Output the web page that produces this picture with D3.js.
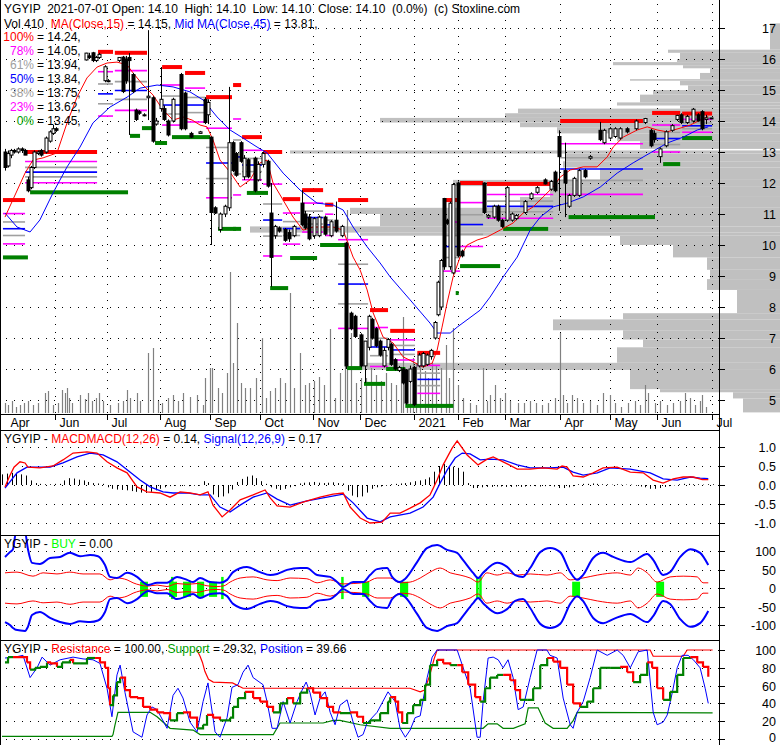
<!DOCTYPE html>
<html><head><meta charset="utf-8">
<script src="https://cdn.jsdelivr.net/npm/d3@7"></script>
<style>body{margin:0;background:#fff}svg{display:block}text{font-family:"Liberation Sans",Arial,sans-serif;font-size:12px}</style>
</head><body><svg id="c" width="780" height="745"></svg>
<script>
// ---------- DATA ----------
const monthLabels = ["Apr","Jun","Jul","Aug","Sep","Oct","Nov","Dec","2021","Feb","Mar","Apr","May","Jun","Jul"];
const monthIdx = [1.5,22,43.75,65.8,86.7,107.5,129.6,149.2,171.7,190,209.6,232.5,253.3,273,295.8];
const priceTicks = [5,6,7,8,9,10,11,12,13,14,15,16,17];
const macdTicks = [1.0,0.5,0.0,-0.5,-1.0];
const buyTicks = [100,50,0,-50,-100];
const resTicks = [100,80,60,40,20,0];

// candles: day index, open, high, low, close
const candIdx = [1.25,2.5,3.75,5,6.7,8.3,9.6,10.8,12.1,13.3,15,16.25,18.3,20,21.25,22.5,
 35,36.25,37.9,39.2,40.4,42.9,44.2,48.75,50.4,51.7,52.9,54.6,55.8,57.1,59.2,60.8,62.9,64.2,
 66.25,67.5,69.2,71.25,74.6,76.25,78.75,82.5,84.6,85.8,
 87.1,88.75,90.8,92.9,94.6,96.25,97.5,99.6,100.8,102.5,105.4,106.7,108.75,110.8,
 112.1,113.75,115.4,117.9,119.6,121.7,125,126.25,127.9,130,132.1,134.6,137.1,139.2,141.7,
 143.3,145.4,147.1,149.6,151.25,152.9,154.2,155.8,157.5,159.2,160.8,162.1,163.75,165.4,
 167.1,168.3,170,171.7,173.75,175.4,177.1,178.75,
 180.4,181.7,182.9,184.2,185.4,186.7,187.9,190,191.7,
 200.8,202.5,205,206.7,208.3,210.4,212.5,214.2,217.9,
 220.4,223,226.25,228.75,230.4,232.1,
 234.6,236.25,238.3,240.4,242.9,245,249.2,250.8,
 253.3,255.4,257.5,260.4,264.2,267.9,
 270.4,271.7,274.2,276.7,279.2,281.25,282.9,285.4,287.9,290,291.7,293.3,295.4];
const cOpen = [13.0,12.55,12.9,13.05,13.0,13.1,13.05,12.1,11.85,12.5,12.95,13.05,13.0,13.35,13.6,13.75,
 15.97,16.1,16.2,15.95,16.05,15.3,15.3,15.95,16.06,16.0,16.05,15.5,14.35,14.3,14.2,14.75,14.75,13.9,
 14.4,14.4,14.0,14.0,15.5,14.9,13.6,13.6,14.7,14.2,
 13.48,11.2,10.5,11.0,11.2,13.3,12.95,13.3,12.2,12.75,12.8,12.1,12.6,12.7,
 11.03,10.3,10.55,10.5,10.4,10.3,11.35,11.0,10.9,10.3,10.3,10.9,10.3,10.8,10.3,
 10.06,7.8,7.7,7.1,6.1,6.7,7.6,7.3,6.9,6.1,6.7,6.8,6.3,5.95,
 6.0,5.97,5.6,6.05,6.1,6.1,6.15,6.4,
 7.0,7.75,8.0,11.5,10.8,9.3,9.1,12.0,9.8,
 12.0,10.9,10.9,11.25,10.8,10.8,10.8,10.85,11.05,
 11.5,11.7,12.1,11.8,12.35,13.5,
 12.4,11.25,11.6,11.6,12.4,12.8,13.7,13.3,
 13.45,13.5,13.45,13.75,13.75,13.95,
 13.7,13.6,12.85,13.2,13.7,14.05,14.2,13.95,14.0,14.2,14.3,14.05,14.1];
const cHigh = [13.1,13.05,13.1,13.1,13.15,13.15,13.1,12.2,12.55,13.05,13.05,13.1,13.5,13.7,13.87,13.8,
 16.2,16.2,16.23,16.1,16.2,15.8,15.35,16.06,16.1,16.1,16.19,15.55,14.4,14.35,14.25,16.93,14.8,14.1,
 15.74,14.5,14.05,14.75,15.55,14.95,13.65,13.68,14.77,14.7,
 13.5,11.25,11.05,11.3,15.1,13.35,13.0,13.35,12.9,12.8,12.85,12.7,13.0,12.75,
 12.0,10.65,10.6,10.55,10.5,10.65,11.77,11.1,11.0,10.9,10.95,10.95,10.8,11.4,10.65,
 10.1,7.85,7.75,7.15,6.9,7.75,7.65,7.35,6.95,6.7,7.0,6.85,6.35,6.1,
 6.05,6.0,6.1,6.1,6.52,6.55,6.5,6.65,
 7.55,8.85,9.55,11.52,10.85,11.4,12.0,12.05,9.85,
 12.02,11.0,11.3,11.3,10.85,11.9,11.05,11.0,11.45,
 11.7,11.9,12.15,12.1,12.4,13.7,
 13.3,11.65,12.2,12.45,12.45,12.9,13.97,13.75,
 13.8,13.8,13.8,13.8,14.05,14.1,
 13.75,13.7,13.15,13.7,13.9,14.2,14.25,14.2,14.42,14.25,14.35,14.2,14.1];
const cLow = [12.4,12.5,12.8,12.95,12.95,13.0,12.9,11.7,11.8,12.45,12.9,12.85,12.95,13.3,13.55,13.65,
 15.95,16.0,15.9,15.9,16.0,15.25,15.25,15.9,14.9,15.2,13.55,14.9,14.0,14.2,14.15,14.03,13.3,13.85,
 14.3,14.0,13.5,13.95,13.7,13.7,13.45,13.6,13.9,13.9,
 10.0,11.0,10.4,10.9,11.1,12.35,12.2,12.65,12.1,12.15,11.7,12.05,12.5,11.85,
 8.65,10.2,10.4,10.1,10.1,10.25,10.6,10.5,10.15,10.2,10.25,10.3,10.25,10.4,10.25,
 6.0,7.25,7.0,6.05,5.55,6.6,6.95,6.7,6.4,6.05,6.6,6.1,5.95,5.9,
 5.5,4.85,5.55,4.8,6.05,6.05,6.1,6.3,
 6.95,7.7,7.9,9.2,10.65,9.2,9.05,9.6,9.6,
 11.0,10.85,10.85,10.75,10.55,10.75,10.75,10.8,11.0,
 11.45,11.65,11.95,11.75,11.7,11.1,
 10.9,11.2,11.55,11.55,12.15,12.75,13.35,13.25,
 13.4,13.45,13.4,13.6,13.7,13.9,
 13.15,13.3,12.65,13.15,13.65,14.0,13.9,13.9,13.95,13.98,13.7,13.9,14.1];
const cClose = [12.5,12.95,13.05,13.0,13.1,13.05,12.9,11.75,12.5,13.0,13.0,12.9,13.45,13.65,13.75,13.7,
 16.19,16.05,15.95,16.05,16.15,15.75,15.3,16.05,14.95,15.3,15.95,14.95,14.05,14.25,14.2,14.8,13.35,14.0,
 14.7,14.05,13.55,14.7,13.75,13.75,13.48,13.65,13.95,14.6,
 11.05,11.03,11.0,11.25,13.3,12.4,12.25,12.7,12.8,12.2,11.75,12.6,12.95,11.9,
 9.6,10.6,10.45,10.15,10.2,10.6,10.65,10.55,10.2,10.85,10.9,10.35,10.75,10.45,10.6,
 6.1,7.3,7.05,6.1,6.9,7.7,7.0,6.75,6.45,6.6,6.95,6.15,6.0,6.05,
 5.55,4.9,6.0,4.85,6.45,6.5,6.45,6.6,
 7.5,8.8,9.5,9.3,10.7,11.35,11.95,9.65,9.65,
 11.05,10.95,11.25,10.8,10.6,11.85,11.0,10.95,11.4,
 11.65,11.85,11.97,12.05,11.75,12.85,
 12.0,11.6,12.15,12.4,12.2,12.85,13.4,13.7,
 13.75,13.75,13.75,13.65,14.0,14.08,
 13.2,13.4,13.1,13.65,13.85,14.18,13.95,14.15,14.38,14.0,13.75,14.1,14.1];

// volume bars (day index, hundreds of shares)
const volIdx = [1.25,2.5,4.2,5.8,7.5,9.2,10.8,12.9,15,17.9,19.2,21.25,23.3,25,26.25,27.1,27.9,29.2,32.5,34.6,35.8,37.5,39.2,40.4,42.1,45,48.3,50.4,52.1,53.3,56.25,57.5,60.8,62.9,65,66.7,69.2,71.25,73.3,75.4,78.3,81.25,83.75,84.6,86.7,87.5,90,91.7,93.75,95,96.25,97.9,99.6,101.25,103.3,105.8,108.3,110,111.7,113.75,115.8,117.9,120,121.7,124.2,126.25,127.9,130,132.1,134.2,136.7,138.75,140.8,142.9,143.75,145.4,147.5,149.6,151.7,153.75,155.8,157.9,160,162.1,164.2,166.25,167.1,168.75,170,171.25,172.5,174.2,176.25,177.5,179.2,180.8,182.9,185,186.25,187.9,190,192.1,195,197.5,200.4,202.1,203.3,205.4,207.5,209.6,211.7,215,217.5,220,222.5,225,227.5,230.4,232.5,233.75,235.4,237.5,239.6,242.1,245,247.9,250.4,253.3,255.4,257.9,260.8,263.75,265.8,267.9,269.2,272.1,274.2,277.1,279.6,282.5,284.6,286.7,288.75,290.8,291.7,293.3];
const volume = [10,8,12,6,8,10,12,8,10,20,22,8,10,23,20,25,15,10,18,14,20,12,15,20,12,8,10,12,23,15,20,12,60,65,12,10,15,18,12,20,16,18,8,35,45,45,25,20,40,141,50,90,30,25,25,35,75,15,22,25,35,30,120,25,60,28,30,32,36,28,84,15,40,100,203,80,30,35,35,45,38,32,40,30,28,45,96,40,48,55,50,60,42,35,50,48,45,68,35,85,28,15,10,8,45,12,18,28,15,20,12,10,10,12,10,8,10,15,80,18,10,18,15,10,12,8,20,18,10,6,10,12,8,28,20,10,12,8,10,12,20,15,8,12,18,6];

// volume-by-price profile (price low, price high, relative volume)
const profLo = [16.3,16.2,16.0,15.9,15.8,15.7,15.55,15.35,15.3,15.15,15.0,14.85,14.6,14.5,14.4,14.25,14.1,13.95,13.8,13.6,13.35,13.1,12.95,12.7,12.5,12.1,11.9,11.55,11.2,11.0,10.6,10.4,10.3,10.0,9.6,9.2,8.9,8.55,7.8,7.6,7.25,6.95,6.7,6.2,5.97,5.35,5.25,5.05,4.6];
const profHi = [17.15,16.3,16.2,16.0,15.9,15.8,15.7,15.55,15.35,15.3,15.15,15.0,14.85,14.6,14.5,14.4,14.25,14.1,13.95,13.8,13.6,13.35,13.05,12.95,12.7,12.5,12.1,11.9,11.55,11.2,11.0,10.6,10.4,10.3,10.0,9.6,9.2,8.9,8.55,7.8,7.6,7.25,6.95,6.7,6.2,5.97,5.35,5.25,5.05];
const profVol = [10,112,100,103,167,97,70,80,150,100,92,127,140,163,100,262,275,400,260,223,163,140,490,215,217,180,327,230,260,430,400,530,420,160,107,73,70,73,43,157,227,157,137,163,420,150,120,47,37];

// moving averages [day index, price]
const ma15 = [[1.25,10.9],[9.6,12.32],[12.9,12.74],[17.1,12.81],[22.9,12.97],[27.1,13.94],[31.25,14.77],[35.4,15.39],[39.6,15.74],[43.75,15.87],[47.9,15.9],[52.1,15.81],[54.6,15.55],[58.75,15.16],[62.9,14.84],[67.1,14.35],[71.25,14.03],[75.4,14.13],[79.2,14.03],[82.5,13.87],[85.4,13.81],[87.9,13.39],[90.8,12.74],[95,12.35],[99.2,11.87],[103.3,12.1],[107.5,12.65],[110.4,12.74],[112.9,12.0],[117.1,11.45],[121.25,10.9],[125.4,10.48],[129.6,10.58],[133.75,10.58],[137.9,10.58],[142.1,10.48],[146.25,9.61],[149.2,9.19],[152.1,8.55],[154.6,7.81],[158.75,7.03],[162.9,6.84],[167.1,6.39],[171.25,6.23],[175.4,6.06],[179.2,6.19],[181.25,6.61],[183.3,7.35],[185.4,8.13],[187.9,8.97],[190.8,9.61],[193.75,10.0],[197.9,10.16],[202.1,10.26],[207.5,10.48],[212.9,10.71],[217.1,11.03],[221.25,11.23],[225.4,11.55],[229.6,11.87],[232.5,12.19],[236.7,12.42],[242.1,12.52],[247.9,12.52],[252.1,12.84],[254.6,13.16],[258.75,13.48],[264.6,13.71],[268.75,13.81],[272.9,13.71],[277.1,13.65],[282.5,13.77],[286.7,13.87],[290.8,14.03],[294.2,14.15]];
const ma45 = [[1.25,11.03],[6.25,10.58],[11.7,10.42],[15.8,10.81],[21.25,11.68],[27.1,12.52],[32.5,13.16],[37.9,13.94],[45,14.45],[52.1,14.77],[57.5,15.06],[64.6,15.16],[71.25,15.1],[78.3,14.94],[83.75,14.68],[89.6,14.13],[95,13.71],[100.4,13.45],[106.25,13.16],[110.4,12.97],[117.1,12.32],[124.2,11.77],[131.25,11.35],[137.9,11.29],[142.1,11.13],[146.25,10.58],[152.1,9.94],[157.5,9.42],[161.7,8.97],[170,8.23],[178.3,7.48],[181.25,7.16],[186.7,7.16],[189.6,7.35],[199.2,7.9],[203.3,8.32],[208.75,8.97],[214.6,9.61],[220,10.48],[224.2,10.9],[229.6,11.23],[235.4,11.35],[242.1,11.55],[249.2,11.87],[256.25,12.32],[262.9,12.65],[270,12.97],[277.1,13.29],[283.75,13.48],[289.6,13.71],[294.2,13.81]];

// Fibonacci retracement sets (day index range, high, low, support bar range)
const fibStart = [0.4,9.6,40,47,66.7,76.25,85,96.25,100,108.75,117,125,134.6,140,153.3,161.7,173,183.75,190.8,202,232.5,270.8,283.3];
const fibEnd   = [9.6,39.6,46.25,60.4,75,84.6,95.8,99.6,108.3,116.7,124.2,133.75,138,152.5,160.8,172,182.5,190.8,200.4,229.6,267,282.5,295.8];
const fibHi    = [11.45,13.0,16.23,16.2,15.74,15.55,14.77,15.16,13.48,13.0,11.48,11.77,11.3,11.45,7.9,7.23,6.52,11.45,12.0,11.97,14.0,14.26,14.24];
const fibLo    = [9.6,11.7,13.52,13.77,13.29,13.48,10.52,10.52,11.68,8.61,9.58,10.0,10.0,6.03,5.52,6.0,4.81,8.45,9.32,10.52,10.9,12.61,13.45];
const supStart = [0.4,11.7,53.3,58.3,63.75,70.8,90,96.25,102,111.7,120,132.5,134.6,143.75,150.8,160,168,189,190.8,208.75,236,275.4,283.3];
const supEnd   = [10.8,52.5,57.5,63.75,68.75,86.7,99.6,97,110.8,119.2,131.25,142.9,136,150,159.6,168,188,190,207.5,227.5,272,282.5,295.8];
const fibPct = [1.0,0.764,0.618,0.5,0.382,0.236,0.0];
const fibPctLabel = ["100%","78%","61%","50%","38%","23%","0%"];
const fibPctValue = ["14.24","14.05","13.94","13.84","13.75","13.62","13.45"];

// MACD panel
const macdLine = [[1.25,-0.05],[3,0.21],[5,0.47],[7.5,0.61],[9.6,0.58],[10.8,0.47],[15.8,0.45],[21.25,0.5],[25.4,0.66],[29.6,0.84],[35.4,0.87],[39.6,0.84],[43.75,0.61],[47.9,0.45],[52.1,0.32],[56.25,-0.05],[60.4,-0.18],[65.8,-0.21],[70,-0.32],[74.2,-0.18],[78.3,-0.21],[82.5,-0.26],[85.8,-0.18],[87.9,-0.53],[91.7,-0.84],[95,-0.66],[99.2,-0.39],[104.6,-0.26],[109.6,-0.13],[111.7,-0.34],[114.6,-0.55],[120,-0.58],[125.4,-0.45],[132.5,-0.32],[137.9,-0.24],[142.1,-0.21],[145,-0.58],[149.2,-0.87],[153.3,-1.0],[158.3,-0.98],[161.7,-0.74],[165.8,-0.74],[170,-0.61],[174.2,-0.47],[178.3,-0.26],[181.25,0.13],[183.75,0.53],[187.5,0.97],[189.6,1.16],[193.75,0.79],[198.3,0.53],[202.1,0.68],[204.6,0.74],[208.75,0.61],[214.6,0.42],[220,0.42],[225.4,0.45],[231.25,0.42],[233.3,0.5],[235.4,0.47],[237.9,0.24],[242.1,0.21],[246.25,0.32],[250.4,0.45],[256.25,0.47],[261.7,0.34],[267.1,0.32],[271.25,0.13],[275.4,0.05],[279.6,0.16],[283.75,0.21],[287.9,0.21],[291.7,0.14],[294.2,0.14]];
const signalLine = [[1.25,-0.08],[6.25,0.32],[10.4,0.47],[20,0.47],[25.4,0.58],[31.25,0.74],[36.7,0.84],[42.1,0.79],[47.9,0.61],[53.3,0.34],[57.5,0.13],[61.7,-0.05],[67.1,-0.18],[71.25,-0.21],[77.1,-0.21],[82.5,-0.26],[86.7,-0.26],[90.8,-0.58],[95,-0.71],[99.2,-0.53],[104.6,-0.32],[110.4,-0.21],[114.6,-0.37],[120,-0.53],[127.1,-0.42],[133.75,-0.34],[142.1,-0.24],[146.25,-0.47],[152.1,-0.87],[157.5,-0.97],[161.7,-0.84],[170,-0.74],[175.4,-0.58],[179.6,-0.32],[182.5,0.05],[185.4,0.39],[188.75,0.71],[191.7,0.84],[195,0.82],[199.2,0.66],[203.3,0.68],[208.75,0.66],[214.6,0.53],[220,0.45],[228.3,0.45],[233.75,0.47],[237.9,0.34],[242.1,0.26],[248,0.32],[253.3,0.45],[261.7,0.42],[270,0.32],[275.4,0.16],[281.25,0.13],[286.7,0.21],[290.8,0.18],[294.2,0.17]];
const histIdx = [0,2,4,6,8,10,12,14,16,18,20,22,24,26,28,30,32,34,36,38,40,42,44,46,48,50,52,54,56,58,60,62,64,66,68,70,72,74,76,78,80,82,84,86,88,90,92,94,96,98,100,102,104,106,108,110,112,114,116,118,120,122,124,126,128,130,132,134,136,138,140,142,144,146,148,150,152,154,156,158,160,162,164,166,168,170,172,174,176,178,180,182,184,186,188,190,192,194,196,198,200,202,204,206,208,210,212,214,216,218,220,222,224,226,228,230,232,234,236,238,240,242,244,246,248,250,252,254,256,258,260,262,264,266,268,270,272,274,276,278,280,282,284,286,288,290,292,294,296];
const histVal = [0.28,0.3,0.32,0.3,0.28,0.25,0.12,0.05,0.03,0.02,0.02,0.03,0.03,0.12,0.18,0.17,0.14,0.12,0.08,0.05,0.04,0.03,-0.06,-0.1,-0.12,-0.13,-0.14,-0.16,-0.18,-0.2,-0.21,-0.18,-0.14,-0.1,-0.06,-0.03,-0.02,-0.03,-0.02,-0.03,-0.02,-0.02,0.1,0.05,-0.25,-0.32,-0.3,-0.22,-0.12,0.08,0.16,0.22,0.25,0.18,0.1,0.03,-0.06,-0.1,-0.13,-0.1,-0.06,-0.03,0.04,0.06,0.07,0.08,0.06,0.05,0.06,0.07,0.05,0.04,-0.15,-0.28,-0.32,-0.3,-0.2,-0.1,-0.06,-0.04,-0.02,0.02,0.03,0.04,0.05,0.07,0.1,0.12,0.15,0.2,0.35,0.5,0.55,0.5,0.48,0.45,0.35,0.05,-0.08,-0.08,-0.06,-0.05,-0.05,-0.04,-0.04,-0.05,-0.05,-0.04,-0.05,-0.04,-0.03,-0.03,-0.04,-0.03,-0.02,-0.04,-0.08,-0.08,-0.06,-0.03,0.02,0.03,0.03,0.04,0.03,0.02,0.02,0.01,0.02,0.01,0.01,0.01,-0.02,-0.04,-0.06,-0.1,-0.1,-0.08,-0.05,-0.03,-0.01,0.02,0.03,0.03,0.02,0.02,0.01,0.02,0.02];

// BUY panel: envelope (blue), inner band (red), buy signals
const buyUpper = [[1.25,84],[3.3,97],[4.6,105],[5.8,150],[9.6,150],[10.8,105],[12.5,68],[15.8,65],[20,81],[24.2,84],[28.3,95],[32.5,86],[36.7,89],[40,86],[42.9,62],[45,30],[47.9,27],[52.1,41],[56.25,30],[58.75,16],[60.8,8],[64.6,14],[68.75,14],[72.9,30],[77.1,22],[79.6,16],[82.5,27],[86.7,16],[90.8,14],[93.75,22],[96.25,43],[102,57],[107.5,43],[111.7,35],[114.6,38],[118.75,49],[124.2,54],[127,54],[131.25,35],[136.7,30],[139.6,16],[142,3],[146.25,16],[150.4,16],[153.3,35],[156.25,51],[160.4,54],[162.5,30],[165.8,16],[168,25],[172.9,70],[177,108],[181.25,116],[185.4,103],[189.6,95],[192,76],[196.25,41],[198.3,27],[200.4,41],[206.25,68],[210.4,57],[213.75,35],[217,30],[220,54],[224.2,97],[228.3,108],[232.5,97],[236.7,43],[239.6,22],[242,35],[246.25,81],[250.4,95],[254.6,84],[261.7,70],[268.75,92],[271.25,76],[275.4,35],[278.3,43],[282.5,84],[286.7,105],[290.8,95],[294.2,62]];
const buyLower = [[1.25,-92],[3.3,-100],[4.6,-108],[5.8,-113],[9.6,-116],[10.8,-105],[12.5,-73],[15.8,-65],[20,-81],[24.2,-92],[28.3,-97],[32.5,-90],[36.7,-92],[40,-88],[42.9,-65],[45,-30],[47.9,-27],[52.1,-41],[56.25,-30],[58.75,-16],[60.8,-8],[64.6,-14],[68.75,-14],[72.9,-30],[77.1,-22],[79.6,-16],[82.5,-27],[86.7,-16],[90.8,-14],[93.75,-22],[96.25,-43],[102,-57],[107.5,-43],[111.7,-35],[114.6,-38],[118.75,-49],[124.2,-54],[127,-54],[131.25,-35],[136.7,-30],[139.6,-16],[142,-3],[146.25,-16],[150.4,-16],[153.3,-35],[156.25,-51],[160.4,-54],[162.5,-30],[165.8,-16],[168,-25],[172.9,-70],[177,-108],[181.25,-116],[185.4,-103],[189.6,-95],[192,-76],[196.25,-41],[198.3,-27],[200.4,-41],[206.25,-68],[210.4,-57],[213.75,-35],[217,-30],[220,-54],[224.2,-97],[228.3,-108],[232.5,-97],[236.7,-43],[239.6,-22],[242,-35],[246.25,-81],[250.4,-95],[254.6,-84],[261.7,-70],[268.75,-92],[271.25,-76],[275.4,-35],[278.3,-43],[282.5,-84],[286.7,-105],[290.8,-95],[294.2,-62]];
const bandUpper = [[1.25,41],[6.25,43],[12.9,32],[17.1,41],[22.9,38],[28.3,43],[33.75,38],[40.8,38],[45,22],[47.9,27],[52.1,22],[54.6,14],[57.5,8],[60.4,5],[64.6,8],[68.75,4],[72.9,12],[77.1,10],[81.25,12],[85.4,6],[89.6,4],[92.5,6],[95,16],[99.2,27],[104.6,30],[110.4,22],[114.6,20],[120,27],[127,25],[131.25,14],[136.7,22],[142,11],[146.25,12],[152,16],[156.25,27],[161.7,27],[165.8,14],[170,16],[174.2,27],[178.3,43],[182.5,54],[186.7,41],[190.8,35],[195,27],[198.3,16],[202,41],[206.25,35],[210.4,41],[214.6,35],[220,38],[227,35],[232.5,41],[236.7,22],[242,27],[248,35],[256.25,41],[261.7,35],[265,54],[268.75,41],[272.9,16],[278.3,30],[283.75,32],[289.6,30],[292,14],[294.2,14]];
const bandLower = [[1.25,-41],[6.25,-43],[12.9,-35],[17.1,-40],[22.9,-38],[28.3,-44],[33.75,-38],[40.8,-38],[45,-22],[47.9,-27],[52.1,-22],[54.6,-14],[57.5,-8],[60.4,-5],[64.6,-8],[68.75,-4],[72.9,-12],[77.1,-10],[81.25,-12],[85.4,-6],[89.6,-4],[92.5,-6],[95,-16],[99.2,-27],[104.6,-30],[110.4,-22],[114.6,-20],[120,-27],[127,-25],[131.25,-14],[136.7,-22],[142,-11],[146.25,-12],[152,-16],[156.25,-27],[161.7,-27],[165.8,-14],[170,-16],[174.2,-27],[178.3,-43],[182.5,-54],[186.7,-41],[190.8,-35],[195,-27],[198.3,-16],[202,-41],[206.25,-35],[210.4,-41],[214.6,-35],[220,-38],[227,-35],[232.5,-41],[236.7,-22],[242,-27],[248,-35],[256.25,-41],[261.7,-35],[265,-54],[268.75,-41],[272.9,-16],[278.3,-30],[283.75,-32],[289.6,-30],[292,-14],[294.2,-14]];
const buyStart = [57.5,69.6,70.8,75.4,81.25,86.25,91.7,141.7,150,165.8,197.9,199.2,237.5,272.5];
const buyEnd   = [60.8,72.9,70.8,78.75,84.2,89.6,91.7,141.7,153,169.2,197.9,199.2,240.8,275.8];

// Resistance / Support / Position panel
const resistance = [[81.2,100],[82.5,93],[83.5,86],[84.5,76],[86,67],[88,64],[96,63],[99,59],[100.4,57],[170,57],[174.2,53],[176,55],[178,70],[180,90],[181.25,100],[270,100],[271.25,93],[283.75,93],[285.4,100],[296,100]];
const support = [[0,3],[45.8,3],[46.25,5],[47,15],[48.3,30],[61.7,30],[64.6,25],[70,12],[79.6,10],[82.5,5],[113,5],[115.8,18],[133.75,18],[138,21],[140.8,21],[149.2,16],[161.7,12],[200.4,12],[202.5,17],[206.25,17],[208.75,12],[213,12],[217.9,17],[219.2,35],[223.3,35],[226.25,18],[229.6,12],[235.4,12],[238,21],[239.6,30],[296,29.32]];
const position = [[1.25,91],[5.4,92],[8.75,94],[11.7,69],[14.6,80],[16.7,92],[20,83],[24.2,89],[29.6,92],[33.75,90],[37.9,89],[40.8,85],[43.75,57],[45.8,25],[47.9,72],[49.2,83],[51.25,52],[54.6,8],[58.3,2],[60.4,27],[62.5,36],[64.6,33],[68.75,12],[71.25,49],[73.3,57],[75.4,46],[78.3,19],[81.25,8],[83.75,42],[85.8,63],[88.75,8],[90.8,2],[93.75,24],[95.8,58],[98.3,61],[100.4,75],[102.5,83],[104.6,69],[108.75,61],[110.4,42],[112.5,12],[114.6,12],[117.1,42],[120,18],[122.9,42],[125,55],[126.7,64],[128.3,52],[130.4,27],[132.5,46],[134.6,53],[136.7,30],[138.75,16],[140.8,38],[143.75,44],[146.25,19],[148.3,2],[150.4,5],[152.1,18],[156.25,30],[160.8,53],[163.75,42],[165.8,12],[168,2],[170,10],[172.1,24],[174.2,26],[177.1,69],[179.2,92],[181.25,100],[189.6,100],[195,57],[197.9,2],[199.2,2],[200.4,42],[202.5,91],[204.6,92],[206.7,89],[208.75,80],[210.8,89],[212.9,69],[215,33],[217.1,36],[220,69],[222.9,100],[227,100],[228.3,94],[231.25,91],[233.75,46],[236.7,16],[237.9,12],[239.6,30],[242.1,42],[245,69],[247.9,100],[252.1,94],[256.25,100],[258.75,94],[261.7,80],[265,98],[268.75,100],[271.25,30],[272.9,16],[275.4,19],[277.1,27],[279.2,52],[281.25,80],[283.3,94],[285.8,94],[288,89],[290.8,80],[292.9,57],[294.2,40]];
const stoch = [[1.25,86],[2.5,92],[4.6,92],[10.4,86],[11.7,78],[13.75,80],[15.8,81],[18.75,86],[20,85],[22.9,81],[25,86],[28.3,89],[29.6,85],[32.5,85],[35.4,91],[38.75,91],[40.8,86],[42.9,80],[44.2,57],[45,38],[46.25,49],[47.9,64],[49.2,69],[51.25,55],[53.3,47],[56.25,46],[58.75,36],[61.7,33],[64.6,30],[67.1,29],[70,21],[72.9,29],[75.4,30],[78.3,24],[81.25,12],[83.75,16],[85.4,27],[87.9,24],[90.8,21],[95,24],[96.25,36],[98.3,46],[101.25,53],[104.6,46],[107.5,42],[110.4,36],[112.9,30],[115.8,40],[118.75,46],[121.25,40],[124.2,52],[127.1,57],[129.6,52],[132.5,46],[135.4,36],[137.9,30],[140.8,29],[145,30],[147.9,25],[150.4,18],[153.3,21],[157.5,29],[160.8,42],[161.7,47],[163.75,42],[165,30],[166.7,18],[168.75,29],[171.25,38],[174.2,44],[176.25,61],[178.3,83],[181.25,89],[183.75,85],[186.7,83],[189.6,83],[191.7,75],[194.2,61],[197.1,47],[199.2,42],[201.25,57],[203.3,69],[206.25,72],[208.75,72],[211.7,66],[213.75,55],[215.8,44],[218.75,44],[221.25,57],[224.2,83],[227.1,91],[229.6,87],[232.5,80],[235.4,61],[237.9,40],[240.8,36],[243.75,42],[246.25,57],[249.2,80],[253.3,80],[257.5,81],[260.4,75],[262.9,64],[265.8,72],[268.75,86],[270.8,80],[272.9,57],[275.4,44],[278.3,53],[281.25,72],[283.75,91],[286.7,92],[289.6,86],[292,81],[294.2,70]];

// ---------- DRAWING ----------
const svg = d3.select("#c");
const RED="#ff0000", BLUE="#0000ff", GREEN="#008000", MAG="#ff00ff", GRAY="#a0a0a0", LIME="#00ff00";
const x = d3.scaleLinear().domain([0,297]).range([2,715]);
const yP = d3.scaleLinear().domain([5,17]).range([400,28]);
const yV = d3.scaleLinear().domain([0,400]).range([413,13]);
const xProf = d3.scaleLinear().domain([0,800]).range([780,-20]);
const yM = d3.scaleLinear().domain([-1,1]).range([523,447]);
const yB = d3.scaleLinear().domain([-100,100]).range([625,551]);
const yR = d3.scaleLinear().domain([0,100]).range([739,650]);

const defs = svg.append("defs");
function clip(id,y0,h){defs.append("clipPath").attr("id",id).append("rect").attr("x",1).attr("y",y0).attr("width",718).attr("height",h);}
clip("cMain",0,414); clip("cMacd",431,104); clip("cBuy",536,104); clip("cRes",641,104);

// volume profile
svg.append("g").selectAll("rect").data(profVol).join("rect")
  .attr("x",(d)=>xProf(d)).attr("width",(d)=>780-xProf(d))
  .attr("y",(d,i)=>yP(profHi[i])).attr("height",(d,i)=>yP(profLo[i])-yP(profHi[i]))
  .attr("fill","#c0c0c0");

// dotted grids
const grid = svg.append("g").attr("stroke","#000").attr("stroke-dasharray","1,7").attr("stroke-width",1);
priceTicks.forEach(p=>grid.append("line").attr("x1",6).attr("x2",719).attr("y1",Math.round(yP(p))+0.5).attr("y2",Math.round(yP(p))+0.5));
monthIdx.slice(1).forEach(t=>grid.append("line").attr("x1",Math.round(x(t))+0.5).attr("x2",Math.round(x(t))+0.5).attr("y1",4).attr("y2",413));
macdTicks.forEach(v=>grid.append("line").attr("x1",6).attr("x2",719).attr("y1",Math.round(yM(v))+0.5).attr("y2",Math.round(yM(v))+0.5));
buyTicks.forEach(v=>grid.append("line").attr("x1",6).attr("x2",719).attr("y1",Math.round(yB(v))+0.5).attr("y2",Math.round(yB(v))+0.5));
resTicks.forEach(v=>grid.append("line").attr("x1",6).attr("x2",719).attr("y1",Math.round(yR(v))+0.5).attr("y2",Math.round(yR(v))+0.5));

// main panel content
const main = svg.append("g").attr("clip-path","url(#cMain)");
main.append("g").selectAll("line").data(volume).join("line")
  .attr("x1",(d,i)=>Math.round(x(volIdx[i]))+0.5).attr("x2",(d,i)=>Math.round(x(volIdx[i]))+0.5)
  .attr("y1",413).attr("y2",d=>yV(d)).attr("stroke","#808080").attr("stroke-width",1.2);

// fib sets
const fibColors = [RED,MAG,GRAY,BLUE,GRAY,MAG,GREEN];
const gF = main.append("g");
fibStart.forEach((s,i)=>{
  for(let j=1;j<6;j++){
    const v = fibLo[i]+fibPct[j]*(fibHi[i]-fibLo[i]);
    gF.append("line").attr("x1",x(s)).attr("x2",x(fibEnd[i])).attr("y1",yP(v)).attr("y2",yP(v))
      .attr("stroke",fibColors[j]).attr("stroke-width",1.6);
  }
  gF.append("rect").attr("x",x(s)).attr("width",Math.max(2,x(fibEnd[i])-x(s))).attr("y",yP(fibHi[i])-2).attr("height",4).attr("fill",RED);
  gF.append("rect").attr("x",x(supStart[i])).attr("width",Math.max(3,x(supEnd[i])-x(supStart[i]))).attr("y",yP(fibLo[i])-2).attr("height",4).attr("fill",GREEN);
});

// moving averages
const lineP = d3.line().x(d=>x(d[0])).y(d=>yP(d[1]));
main.append("path").attr("d",lineP(ma45)).attr("fill","none").attr("stroke",BLUE).attr("stroke-width",1);
main.append("path").attr("d",lineP(ma15)).attr("fill","none").attr("stroke",RED).attr("stroke-width",1);

// candles
const gC = main.append("g");
candIdx.forEach((t,i)=>{
  const o=cOpen[i],h=cHigh[i],l=cLow[i],c=cClose[i];
  const cx = Math.round(x(t))+0.5;
  gC.append("line").attr("x1",cx).attr("x2",cx).attr("y1",yP(h)).attr("y2",yP(l)).attr("stroke","#000");
  const top=yP(Math.max(o,c)), bot=yP(Math.min(o,c));
  gC.append("rect").attr("x",cx-1.5).attr("y",top).attr("width",3).attr("height",Math.max(1,bot-top))
    .attr("fill",c>=o?"#fff":"#000").attr("stroke","#000").attr("stroke-width",1);
});

// MACD panel
const gM = svg.append("g").attr("clip-path","url(#cMacd)");
gM.selectAll("line").data(histVal).join("line")
  .attr("x1",(d,i)=>Math.round(x(histIdx[i]))+0.5).attr("x2",(d,i)=>Math.round(x(histIdx[i]))+0.5)
  .attr("y1",yM(0)).attr("y2",d=>yM(d)).attr("stroke","#000").attr("stroke-width",1);
const lineM = d3.line().x(d=>x(d[0])).y(d=>yM(d[1]));
gM.append("path").attr("d",lineM(signalLine)).attr("fill","none").attr("stroke",BLUE).attr("stroke-width",1.3);
gM.append("path").attr("d",lineM(macdLine)).attr("fill","none").attr("stroke",RED).attr("stroke-width",1.3);

// BUY panel
const gB = svg.append("g").attr("clip-path","url(#cBuy)");
const lineB = d3.line().x(d=>x(d[0])).y(d=>yB(d[1])).curve(d3.curveMonotoneX);
gB.selectAll("rect.sig").data(buyStart).join("rect").attr("class","sig")
  .attr("x",(d,i)=>x(d)-(buyEnd[i]===d?1:0)).attr("width",(d,i)=>buyEnd[i]===d?2.5:x(buyEnd[i])-x(d))
  .attr("y",(d,i)=>buyEnd[i]===d?yB(30):yB(17)).attr("height",(d,i)=>buyEnd[i]===d?yB(-30)-yB(30):yB(-24)-yB(17))
  .attr("fill",LIME);
[bandUpper,bandLower].forEach(s=>gB.append("path").attr("d",lineB(s)).attr("fill","none").attr("stroke",RED).attr("stroke-width",1));
[buyUpper,buyLower].forEach(s=>gB.append("path").attr("d",lineB(s)).attr("fill","none").attr("stroke",BLUE).attr("stroke-width",2));

// Resistance panel
const gR = svg.append("g").attr("clip-path","url(#cRes)");
const lineR = d3.line().x(d=>x(d[0])).y(d=>yR(d[1]));
gR.append("path").attr("d",lineR(support)).attr("fill","none").attr("stroke",GREEN).attr("stroke-width",1.2);
gR.append("path").attr("d",lineR(resistance)).attr("fill","none").attr("stroke",RED).attr("stroke-width",1.2);
gR.append("path").attr("d",lineR(position)).attr("fill","none").attr("stroke",BLUE).attr("stroke-width",1);
for(let i=0;i<stoch.length-1;i++){
  const [t0,v0]=stoch[i], [t1,v1]=stoch[i+1];
  const col = v1>=v0?GREEN:RED;
  const p = d3.path(); p.moveTo(x(t0),yR(v0)); p.lineTo(x(t1),yR(v0)); p.lineTo(x(t1),yR(v1));
  gR.append("path").attr("d",p.toString()).attr("fill","none").attr("stroke",col).attr("stroke-width",2.2);
}

// frames
const fr = svg.append("g").attr("stroke","#000").attr("stroke-width",1);
fr.append("line").attr("x1",0.5).attr("x2",0.5).attr("y1",0).attr("y2",745);
fr.append("line").attr("x1",719.5).attr("x2",719.5).attr("y1",0).attr("y2",745);
[414.5,430.5,535.5,640.5].forEach(y=>fr.append("line").attr("x1",0).attr("x2",720).attr("y1",y).attr("y2",y));

// x axis ticks + labels
monthIdx.forEach((t,i)=>{
  const tx = Math.round(x(t))+0.5;
  if(i>0) fr.append("line").attr("x1",tx).attr("x2",tx).attr("y1",414).attr("y2",420);
  svg.append("text").attr("x",tx+4).attr("y",427).style("font-size","12.3px").text(monthLabels[i]);
});

// right axes
function rightAxis(ticks,scale,fmt){
  ticks.forEach(v=>{
    const yy=Math.round(scale(v))+0.5;
    fr.append("line").attr("x1",719).attr("x2",725).attr("y1",yy).attr("y2",yy);
    svg.append("text").attr("x",776).attr("y",Math.min(yy+4.5,742)).attr("text-anchor","end").style("font-size","12.5px").text(fmt(v));
  });
}
rightAxis(priceTicks,yP,d=>d);
rightAxis(macdTicks,yM,d=>d.toFixed(1));
rightAxis(buyTicks,yB,d=>d);
rightAxis(resTicks,yR,d=>d);

// header texts
function multi(xx,yy,parts){
  const t=svg.append("text").attr("x",xx).attr("y",yy).attr("xml:space","preserve").style("white-space","pre");
  parts.forEach(([s,c])=>t.append("tspan").attr("fill",c).text(s));
}
multi(4,13,[["YGYIP  2021-07-01 Open: 14.10  High: 14.10  Low: 14.10  Close: 14.10  (0.0%)  (c) Stoxline.com","#000"]]);
multi(4,28,[["Vol 410  ","#000"],["MA(Close,15)",RED],[" = 14.15, ","#000"],["Mid MA(Close,45)",BLUE],[" = 13.81,","#000"]]);
fibPctLabel.forEach((lab,i)=>{
  const yy = 41+i*14;
  svg.append("text").attr("x",34).attr("y",yy).attr("text-anchor","end").attr("fill",i===6?"#00a000":fibColors[i]).text(lab);
  svg.append("text").attr("x",37).attr("y",yy).text("= "+fibPctValue[i]+",");
});
multi(4,443,[["YGYIP - ","#000"],["MACDMACD(12,26)",RED],[" = 0.14, ","#000"],["Signal(12,26,9)",BLUE],[" = 0.17","#000"]]);
multi(4,548,[["YGYIP - ","#000"],["BUY",LIME],[" = 0.00","#000"]]);
multi(4,653,[["YGYIP - ","#000"],["Resistance",RED],[" = 100.00, ","#000"],["Support","#00a000"],[" = 29.32, ","#000"],["Position",BLUE],[" = 39.66","#000"]]);
</script></body></html>
